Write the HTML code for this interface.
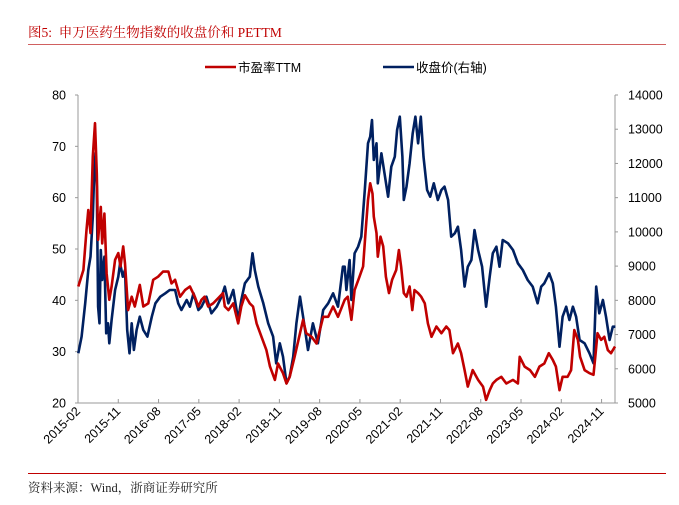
<!DOCTYPE html>
<html><head><meta charset="utf-8"><style>
body{margin:0;background:#fff;}
#wrap{position:relative;width:679px;height:505px;overflow:hidden;background:#fff;}
</style></head><body>
<div id="wrap">
<svg id="svg" width="679" height="505" xmlns="http://www.w3.org/2000/svg">
<text x="28" y="37" font-family="'Liberation Serif','Noto Serif CJK SC',serif" font-size="13.5" fill="#c00000">图5:&#160;&#160;申万医药生物指数的收盘价和 PETTM</text>
<line x1="28" y1="44.5" x2="666" y2="44.5" stroke="#d06060" stroke-width="1"/>
<g>
<g><line x1="205" y1="67" x2="236" y2="67" stroke="#c00000" stroke-width="2.5"/><text x="238" y="72" font-family="'Liberation Sans','Noto Sans CJK SC',sans-serif" font-size="12.5" fill="#000">市盈率TTM</text></g>
<g><line x1="383" y1="67" x2="414" y2="67" stroke="#002060" stroke-width="2.5"/><text x="416" y="72" font-family="'Liberation Sans','Noto Sans CJK SC',sans-serif" font-size="12.5" fill="#000">收盘价(右轴)</text></g>
</g>
<g id="axes"></g>
<g id="plot"></g>
<line x1="28" y1="473.5" x2="666" y2="473.5" stroke="#c00000" stroke-width="1"/>
<text x="28" y="492" font-family="'Liberation Serif','Noto Serif CJK SC',serif" font-size="12.5" fill="#222">资料来源：Wind，浙商证券研究所</text>
</svg>
</div>
<script>
const xLabels=["2015-02","2015-11","2016-08","2017-05","2018-02","2018-11","2019-08","2020-05","2021-02","2021-11","2022-08","2023-05","2024-02","2024-11"];
const leftTicks=[20,30,40,50,60,70,80];
const rightTicks=[5000,6000,7000,8000,9000,10000,11000,12000,13000,14000];
// months since 2015-02
const peMonths=[0.07,1.2,1.9,2.3,2.8,3.3,3.8,4.2,4.5,5.1,5.4,5.9,6.4,7.0,7.5,8.3,9.0,9.5,10.1,10.5,11.2,12.0,12.7,13.8,14.6,15.7,16.8,17.9,19.0,20.2,20.9,21.7,22.8,23.9,25.0,26.1,26.9,27.6,28.3,29.1,30.2,31.3,32.4,32.8,33.6,34.7,35.8,36.5,37.3,38.4,39.1,39.9,41.0,42.1,42.9,44.0,44.7,45.8,46.6,47.3,48.4,49.6,50.3,51.0,52.2,53.3,54.8,55.9,57.0,58.1,59.6,60.3,61.1,61.8,62.9,63.7,64.3,64.8,65.3,65.8,66.1,66.7,67.0,67.6,68.2,68.8,69.5,70.2,71.1,71.7,72.2,72.8,73.4,74.1,74.7,75.2,76.0,76.7,77.5,78.2,79.0,80.1,81.2,82.3,83.0,83.8,84.9,85.6,86.4,87.1,88.2,89.4,90.5,91.2,92.0,92.7,93.5,94.6,95.7,97.2,98.3,98.7,99.8,101.0,102.1,103.1,104.2,105.2,106.1,106.8,107.6,108.3,109.4,110.2,110.9,111.7,112.2,113.2,114.3,115.2,115.6,116.1,116.9,117.6,118.4,119.1,120.0];
const peValues=[42.7,45.9,53.7,57.6,53.1,68.0,74.5,64.7,51.8,58.2,51.1,56.9,45.3,40.1,42.7,47.9,49.2,46.6,50.5,47.2,38.1,40.7,38.8,43.0,38.8,39.4,44.0,44.6,45.6,45.6,43.3,44.0,40.7,42.0,42.7,40.7,38.8,40.1,40.7,38.8,39.4,40.4,41.4,38.8,38.1,39.4,35.5,38.8,41.0,39.4,38.8,35.5,32.9,30.3,27.1,24.5,27.7,25.8,23.8,25.1,29.0,33.6,36.2,33.6,32.9,31.6,36.8,36.8,38.8,36.8,40.1,40.7,36.2,42.0,44.6,46.6,53.7,59.5,62.8,60.8,56.3,53.1,48.5,52.4,50.5,44.6,41.4,44.0,45.9,49.8,46.6,41.4,40.7,42.7,38.1,42.0,41.4,40.7,39.4,35.5,32.9,34.9,33.6,34.9,34.2,29.7,31.6,29.7,26.4,23.2,26.4,24.5,23.2,20.6,22.5,23.8,24.5,25.1,23.8,24.5,23.8,29.0,27.1,26.4,25.1,27.1,27.7,29.7,28.4,27.1,22.5,25.1,25.1,26.4,34.2,32.3,29.0,26.4,25.8,25.5,29.0,33.6,32.3,32.9,30.3,29.7,31.0];
const closeMonths=[0.07,0.8,1.6,2.3,2.8,3.3,3.6,3.9,4.2,4.5,4.8,5.1,5.4,5.9,6.3,6.7,7.0,7.5,8.3,9.0,9.4,10.0,10.5,11.0,11.5,12.0,12.5,13.1,13.8,14.6,15.5,16.5,17.3,18.4,19.5,20.5,21.7,22.4,23.1,24.3,25.0,25.8,26.9,27.6,28.7,29.8,31.0,32.1,32.8,33.6,34.7,35.8,36.5,37.3,38.4,39.0,39.5,40.3,41.4,42.5,43.6,44.3,45.1,45.8,46.6,47.3,48.1,48.8,49.6,50.3,51.4,52.5,53.6,54.8,55.9,57.0,58.1,59.6,60.7,59.2,59.97,60.6,61.1,61.8,62.6,63.3,64.1,64.8,65.3,65.7,66.1,66.7,67.0,67.8,68.5,69.3,70.0,70.8,71.3,71.9,72.5,72.8,73.4,74.1,74.8,75.4,76.0,76.6,77.2,78.0,78.7,79.5,80.4,81.2,81.9,82.7,83.4,84.2,84.9,85.6,86.4,87.1,87.9,88.6,89.4,90.3,91.2,92.0,92.7,93.5,94.2,94.9,96.1,97.2,98.3,99.4,100.5,101.6,102.7,103.5,104.2,105.3,106.1,106.8,107.6,108.3,109.1,109.8,110.6,111.3,112.1,113.2,114.3,115.2,115.8,116.5,117.3,118.0,118.8,119.5,120.1];
const closeValues=[6451,6939,7913,8887,9276,10445,11614,12296,11322,7815,7328,9471,8594,9276,7036,7328,6744,7426,8302,8692,9081,8692,8887,7133,6451,7328,6549,7133,7523,7133,6939,7523,7913,8107,8205,8302,8302,7913,7718,8010,7815,8205,7718,7815,8107,7620,7815,8107,8400,7913,8302,7426,8010,8497,8692,9374,8887,8400,7913,7328,6939,6159,6744,6354,5575,5770,6354,7328,8107,7523,6549,7328,6744,7718,7913,8205,7815,8984,9179,8984,8302,9081,8010,9374,9568,9860,11224,12588,12783,13270,12101,12588,11419,12296,11711,11029,11906,12198,12977,13367,12198,10932,11322,12003,12880,13367,12588,13367,12198,11224,11029,11419,10932,11224,11322,10932,9860,9958,10153,9471,8400,8984,9179,10055,9471,8984,7815,8692,9374,9568,8984,9763,9666,9471,9081,8887,8594,8400,7913,8400,8497,8789,8497,7815,6646,7523,7815,7426,7815,7523,6841,6744,6451,6159,8400,7620,8010,7523,6841,7231,7231];

const NS="http://www.w3.org/2000/svg";
const X0=78,X1=615,Y0=403,Y1=95;
const xScale=m=>X0+m*(X1-X0)/120;
const yL=v=>Y0-(v-20)/60*(Y0-Y1);
const yR=v=>Y0-(v-5000)/9000*(Y0-Y1);
const axes=document.getElementById('axes'),plot=document.getElementById('plot');
function mk(tag,attrs,parent){const e=document.createElementNS(NS,tag);for(const k in attrs)e.setAttribute(k,attrs[k]);parent.appendChild(e);return e;}
const ff="'Liberation Sans',sans-serif";
let e;
e=mk('line',{x1:X0,y1:Y1,x2:X0,y2:Y0,stroke:'#999','stroke-width':1},axes);


e=mk('line',{x1:X1,y1:Y1,x2:X1,y2:Y0,stroke:'#999','stroke-width':1},axes);


e=mk('line',{x1:X0,y1:Y0,x2:X1,y2:Y0,stroke:'#999','stroke-width':1},axes);


leftTicks.forEach(v=>{
 mk('line',{x1:X0-3,y1:yL(v),x2:X0,y2:yL(v),stroke:'#999'},axes);
 e=mk('text',{x:X0-12,y:yL(v)+4.5,'text-anchor':'end','font-family':ff,'font-size':12.5,fill:'#000'},axes);
 e.textContent=v;
 
 
});
rightTicks.forEach(v=>{
 mk('line',{x1:X1,y1:yR(v),x2:X1+3,y2:yR(v),stroke:'#999'},axes);
 e=mk('text',{x:X1+13,y:yR(v)+4.5,'font-family':ff,'font-size':12.5,fill:'#000'},axes);
 e.textContent=v;
 
 
});
xLabels.forEach((l,i)=>{
 const x=xScale(i*9);
 mk('line',{x1:x,y1:Y0-4,x2:x,y2:Y0,stroke:'#999'},axes);
 e=mk('text',{x:x+3,y:Y0+9,'text-anchor':'end','font-family':ff,'font-size':12.5,fill:'#000',transform:`rotate(-45 ${x+3} ${Y0+9})`},axes);
 e.textContent=l;
 
 
});
function path(ms,vs,sc,col,name){
 const d=ms.map((m,i)=>(i?'L':'M')+xScale(m).toFixed(1)+','+sc(vs[i]).toFixed(1)).join('');
 const p=mk('path',{d:d,fill:'none',stroke:col,'stroke-width':2.6,'stroke-linejoin':'round'},plot);
 
 
}
// sort close series by month
const idx=closeMonths.map((m,i)=>i).sort((a,b)=>closeMonths[a]-closeMonths[b]);
path(idx.map(i=>closeMonths[i]),idx.map(i=>closeValues[i]),yR,'#002060','close-price-line');
path(peMonths,peValues,yL,'#c00000','pe-ttm-line');
</script>
</body></html>
